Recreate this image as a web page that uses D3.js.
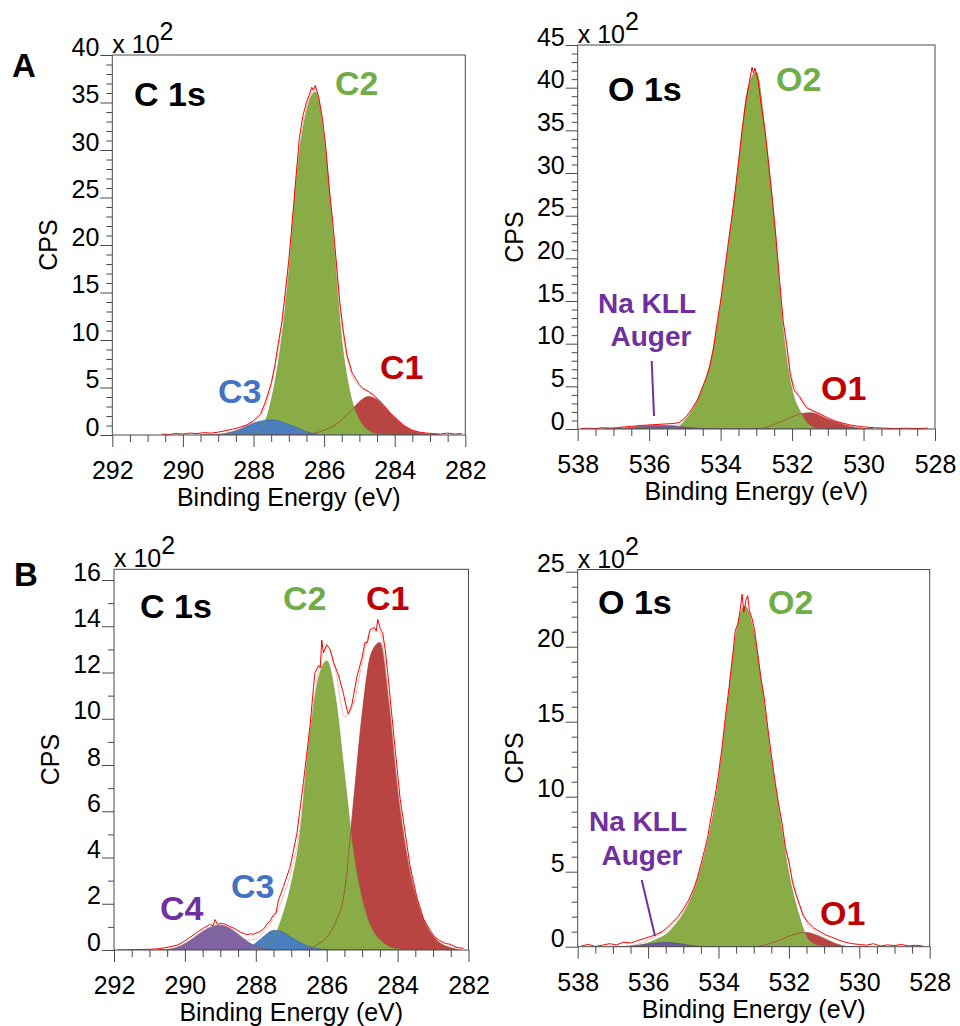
<!DOCTYPE html>
<html><head><meta charset="utf-8">
<script src="https://cdn.jsdelivr.net/npm/d3@7"></script>
<style>
html,body{margin:0;padding:0;background:#fff;}
svg{display:block;}
</style></head><body>
<svg id="chart" width="960" height="1026"></svg>
<script>
// ================= DATA (values in units of 10^2 CPS) =================
// --- Panel A, C 1s ---
const aL_E  = [289.5,289.25,289,288.75,288.5,288.25,288,287.75,287.5,287.25,287,286.75,286.5,286.25,286,285.75,285.5,285.25,285,284.75,284.5,284.25,284,283.75,283.5,283.25,283,282.75];
const aL_C1 = [0,0,0,0,0,0,0,0,0,0,0,0.02,0.05,0.2,0.5,0.9,1.6,2.5,3.5,4.05,3.7,2.8,1.8,1.0,0.45,0.2,0.05,0];
const aL_C2 = [0,0,0,0,0,0.02,0.15,0.8,3.6,8.8,17.0,28.0,34.0,36.1,31.0,21.0,10.0,4.2,1.6,0.5,0.1,0.02,0,0,0,0,0,0];
const aL_C3 = [0,0.02,0.05,0.2,0.45,0.85,1.25,1.5,1.6,1.45,1.1,0.75,0.35,0.1,0,0,0,0,0,0,0,0,0,0,0,0,0,0];
const aL_raw = [[290.6,0.1],[290.4,0.05],[290.2,0.15],[290.0,0.1],[289.8,0.2],[289.6,0.15],[289.4,0.25],[289.2,0.2],[289.0,0.3],[288.8,0.45],[288.6,0.6],[288.4,0.8],[288.2,1.05],[288.0,1.5],[287.8,2.2],[287.65,3.6],[287.5,5.4],[287.4,7.2],[287.3,9.6],[287.2,11.8],[287.1,15.0],[287.0,18.4],[286.9,22.6],[286.8,27.0],[286.7,31.3],[286.6,33.6],[286.5,35.0],[286.4,36.0],[286.35,36.6],[286.3,36.3],[286.25,36.8],[286.15,35.5],[286.05,33.4],[285.95,30.2],[285.85,25.8],[285.75,22.2],[285.65,18.0],[285.55,13.8],[285.45,10.8],[285.35,8.4],[285.2,6.5],[285.0,5.3],[284.9,4.9],[284.75,4.6],[284.6,4.2],[284.45,3.7],[284.3,3.1],[284.15,2.4],[284.0,1.9],[283.85,1.35],[283.7,0.9],[283.5,0.5],[283.3,0.3],[283.1,0.2],[282.9,0.15],[282.7,0.1],[282.5,0.2],[282.3,0.1],[282.1,0.15]];

// --- Panel A, O 1s ---
const aR_E  = [537.25,537,536.75,536.5,536.25,536,535.75,535.5,535.25,535,534.75,534.5,534.25,534,533.75,533.5,533.25,533,532.75,532.5,532.25,532,531.75,531.5,531.25,531,530.75,530.5,530.25,530,529.75];
const aR_O1 = [0,0,0,0,0,0,0,0,0,0,0,0,0,0,0,0,0,0,0.15,0.55,0.95,1.4,1.8,1.9,1.65,1.15,0.8,0.45,0.2,0.05,0];
const aR_O2 = [0,0,0,0,0,0,0,0.02,0.1,1.0,2.5,4.8,8.4,14.5,22.4,30.9,39.5,41.8,34.4,24.2,11.5,4.6,1.9,0.4,0.05,0,0,0,0,0,0];
const aR_Na = [0,0.02,0.08,0.18,0.3,0.38,0.42,0.4,0.33,0.22,0.12,0.05,0.01,0,0,0,0,0,0,0,0,0,0,0,0,0,0,0,0,0,0];
const aR_raw = [[537.9,0.05],[537.7,0.1],[537.5,0.05],[537.3,0.15],[537.1,0.1],[536.9,0.15],[536.7,0.25],[536.5,0.3],[536.3,0.4],[536.1,0.45],[535.9,0.5],[535.7,0.55],[535.5,0.6],[535.3,0.65],[535.15,0.8],[535.0,1.3],[534.9,1.8],[534.8,2.4],[534.65,3.4],[534.5,5.0],[534.4,6.0],[534.3,7.4],[534.2,9.5],[534.1,12.4],[534.0,15.0],[533.9,18.2],[533.8,21.4],[533.7,24.4],[533.6,27.6],[533.5,31.3],[533.4,35.0],[533.3,38.2],[533.2,40.6],[533.12,42.4],[533.08,41.7],[533.04,42.3],[532.95,40.8],[532.85,37.6],[532.75,34.8],[532.65,30.8],[532.55,26.8],[532.45,22.4],[532.35,17.4],[532.25,12.7],[532.15,9.9],[532.05,6.4],[531.95,4.6],[531.8,3.8],[531.6,2.5],[531.4,2.1],[531.2,1.75],[531.0,1.3],[530.8,0.95],[530.6,0.7],[530.4,0.5],[530.2,0.35],[530.0,0.25],[529.7,0.15],[529.4,0.1],[529.1,0.05],[528.8,0.1],[528.5,0.05],[528.2,0.1]];

// --- Panel B, C 1s ---
const bL_E  = [290.75,290.5,290.25,290,289.75,289.5,289.25,289,288.75,288.5,288.25,288,287.75,287.5,287.25,287,286.75,286.5,286.25,286,285.75,285.5,285.25,285,284.75,284.5,284.25,284,283.75,283.5,283.25,283,282.75,282.5,282.25];
const bL_C1 = [0,0,0,0,0,0,0,0,0,0,0,0,0,0,0,0,0,0.05,0.25,0.55,1.2,2.5,6.3,10.2,12.8,13.3,10.7,6.9,4.2,2.4,1.25,0.6,0.25,0.1,0];
const bL_C2 = [0,0,0,0,0,0,0,0,0,0,0,0.02,0.15,0.5,1.45,2.85,5.0,8.9,11.6,12.5,10.9,7.6,4.3,2.2,1.0,0.45,0.15,0.05,0.01,0,0,0,0,0,0];
const bL_C3 = [0,0,0,0,0,0,0,0,0,0,0.05,0.3,0.62,0.85,0.78,0.55,0.32,0.15,0.06,0.02,0,0,0,0,0,0,0,0,0,0,0,0,0,0,0];
const bL_C4 = [0,0.02,0.1,0.27,0.52,0.8,1.0,1.07,0.95,0.68,0.38,0.16,0.05,0.01,0,0,0,0,0,0,0,0,0,0,0,0,0,0,0,0,0,0,0,0,0];
const bL_raw = [[291.9,0.0],[291.3,0.02],[290.98,0.03],[290.7,0.06],[290.42,0.14],[290.2,0.22],[290.04,0.36],[289.9,0.5],[289.76,0.65],[289.6,0.82],[289.48,0.94],[289.3,1.1],[289.2,1.05],[289.15,1.32],[289.08,1.1],[289.01,1.15],[288.87,1.12],[288.75,1.02],[288.63,0.95],[288.44,0.78],[288.26,0.66],[288.15,0.7],[288.07,0.68],[287.88,0.8],[287.75,0.95],[287.69,1.12],[287.6,1.25],[287.5,1.52],[287.43,1.6],[287.36,2.16],[287.22,2.74],[287.03,3.6],[286.84,5.04],[286.66,7.2],[286.47,9.7],[286.37,11.4],[286.33,12.0],[286.23,12.3],[286.18,12.2],[286.14,13.4],[286.09,12.85],[286.0,13.2],[285.9,13.0],[285.81,12.45],[285.67,11.9],[285.53,11.1],[285.46,10.6],[285.39,10.2],[285.29,10.6],[285.15,11.8],[285.01,12.6],[284.92,13.3],[284.85,13.3],[284.78,13.85],[284.66,13.95],[284.6,13.8],[284.56,14.3],[284.49,13.9],[284.42,13.7],[284.35,13.0],[284.28,12.0],[284.21,10.9],[284.07,8.7],[283.93,6.55],[283.79,5.1],[283.65,3.65],[283.46,2.3],[283.27,1.35],[283.08,0.85],[282.95,0.55],[282.8,0.4],[282.65,0.28],[282.52,0.25],[282.35,0.12],[282.14,0.07]];

// --- Panel B, O 1s ---
const bR_E  = [537,536.75,536.5,536.25,536,535.75,535.5,535.25,535,534.75,534.5,534.25,534,533.75,533.5,533.25,533,532.75,532.5,532.25,532,531.75,531.5,531.25,531,530.75,530.5,530.25,530,529.75];
const bR_O1 = [0,0,0,0,0,0,0,0,0,0,0,0,0,0,0,0,0,0.08,0.25,0.45,0.7,0.88,0.95,0.8,0.55,0.28,0.08,0,0,0];
const bR_O2 = [0,0,0.02,0.1,0.25,0.5,0.8,1.4,2.2,3.4,5.2,7.6,11.0,15.9,20.8,22.7,21.0,17.0,12.4,8.5,4.85,2.4,0.7,0.15,0.02,0,0,0,0,0];
const bR_Na = [0,0.01,0.04,0.1,0.18,0.25,0.28,0.25,0.16,0.07,0.02,0,0,0,0,0,0,0,0,0,0,0,0,0,0,0,0,0,0,0];
const bR_raw = [[537.9,0.05],[537.7,0.15],[537.5,0.02],[537.3,0.1],[537.1,0.2],[536.9,0.12],[536.7,0.3],[536.5,0.25],[536.3,0.4],[536.1,0.55],[535.9,0.7],[535.75,0.85],[535.6,1.0],[535.45,1.3],[535.3,1.65],[535.15,2.0],[535.0,2.5],[534.85,3.1],[534.7,3.9],[534.6,4.6],[534.5,5.5],[534.4,6.4],[534.3,7.4],[534.2,8.8],[534.1,10.0],[534.0,11.5],[533.9,13.3],[533.8,15.4],[533.7,17.3],[533.6,19.4],[533.52,21.1],[533.45,21.5],[533.38,22.5],[533.33,23.5],[533.28,22.3],[533.22,23.1],[533.17,23.4],[533.12,22.4],[533.05,21.9],[532.98,21.2],[532.9,19.8],[532.8,18.0],[532.7,16.6],[532.6,14.6],[532.5,12.8],[532.4,11.1],[532.3,9.6],[532.2,8.3],[532.1,6.6],[532.0,5.7],[531.9,4.3],[531.8,3.5],[531.7,2.8],[531.6,2.1],[531.45,1.6],[531.3,1.25],[531.12,1.0],[530.95,0.78],[530.8,0.65],[530.6,0.45],[530.4,0.3],[530.2,0.2],[530.0,0.15],[529.8,0.1],[529.6,0.2],[529.4,0.05],[529.2,0.12],[529.0,0.08],[528.8,0.15],[528.6,0.05],[528.4,0.1],[528.2,0.05]];

// --- tick labels ---
const cXTicks = [292,290,288,286,284,282];
const oXTicks = [538,536,534,532,530,528];
const aL_yTicks = [0,5,10,15,20,25,30,35,40];
const aR_yTicks = [0,5,10,15,20,25,30,35,40,45];
const bL_yTicks = [0,2,4,6,8,10,12,14,16];
const bR_yTicks = [0,5,10,15,20,25];

// ================= STYLE =================
const FONT = '"Liberation Sans", Arial, Helvetica, sans-serif';
const FILL = {red:'#b94542', green:'#8aac46', blue:'#4a7ebf', purple:'#8064a2', na:'#6c5a9e'};
const EDGE = {red:'#a33a36', green:'#789a3a', blue:'#3a6aa8', purple:'#6a4f8e', na:'#5a4a8a'};
const LBL  = {red:'#c00000', green:'#70ad47', blue:'#4472c4', purple:'#7030a0'};
const AXIS = '#4a4a4a';

// ================= LAYOUT =================
const panels = [
  { frame:{l:112.3, r:465.3, t:55, b:435}, xDom:[292,282], yDom:[0,40], yTopPx:55,
    xTicks:cXTicks, yTicks:aL_yTicks, yMinorMax:40,
    E:aL_E, comps:[{v:aL_C1,c:'red'},{v:aL_C2,c:'green'},{v:aL_C3,c:'blue'}], raw:aL_raw,
    letter:{t:'A', x:12, y:77},
    title:{t:'C 1s', x:134, y:106},
    labels:[{t:'C2',x:335,y:95,c:'green'},{t:'C1',x:380,y:379,c:'red'},{t:'C3',x:218,y:403,c:'blue'}] },
  { frame:{l:577.7, r:935, t:45, b:429}, xDom:[538,528], yDom:[0,45], yTopPx:45,
    xTicks:oXTicks, yTicks:aR_yTicks, yMinorMax:45,
    E:aR_E, comps:[{v:aR_O1,c:'red'},{v:aR_O2,c:'green'},{v:aR_Na,c:'na'}], raw:aR_raw,
    title:{t:'O 1s', x:608, y:101},
    labels:[{t:'O2',x:776,y:91,c:'green'},{t:'O1',x:821,y:400,c:'red'}],
    na:{x:647, y1:313, y2:346, lx1:651.7, ly1:361, lx2:654, ly2:416} },
  { frame:{l:114, r:468.5, t:569.3, b:950}, xDom:[292,282], yDom:[0,16], yTopPx:580,
    xTicks:cXTicks, yTicks:bL_yTicks, yMinorMax:16,
    E:bL_E, comps:[{v:bL_C1,c:'red'},{v:bL_C2,c:'green'},{v:bL_C3,c:'blue'},{v:bL_C4,c:'purple'}], raw:bL_raw,
    letter:{t:'B', x:14, y:586},
    title:{t:'C 1s', x:140, y:618},
    labels:[{t:'C2',x:283,y:610,c:'green'},{t:'C1',x:366,y:610,c:'red'},{t:'C3',x:231,y:898,c:'blue'},{t:'C4',x:160,y:920,c:'purple'}] },
  { frame:{l:577.7, r:929.7, t:569.5, b:946.7}, xDom:[538,528], yDom:[0,25], yTopPx:571.7,
    xTicks:oXTicks, yTicks:bR_yTicks, yMinorMax:25,
    E:bR_E, comps:[{v:bR_O1,c:'red'},{v:bR_O2,c:'green'},{v:bR_Na,c:'na'}], raw:bR_raw,
    title:{t:'O 1s', x:598, y:614},
    labels:[{t:'O2',x:768,y:614,c:'green'},{t:'O1',x:820,y:925,c:'red'}],
    na:{x:638, y1:831, y2:865, lx1:641.7, ly1:880, lx2:655, ly2:936} }
];

const svg = d3.select('#chart');
const defs = svg.append('defs');

panels.forEach((p, pi) => {
  const f = p.frame;
  const x = d3.scaleLinear().domain(p.xDom).range([f.l, f.r]);
  const y = d3.scaleLinear().domain(p.yDom).range([f.b, p.yTopPx]);
  const g = svg.append('g');

  defs.append('clipPath').attr('id', 'clip' + pi)
    .append('rect').attr('x', f.l).attr('y', f.t).attr('width', f.r - f.l).attr('height', f.b - f.t);
  const plot = g.append('g').attr('clip-path', `url(#clip${pi})`);

  const byX = (a, b) => x(a[0]) - x(b[0]);
  const area = d3.area().x(d => x(d[0])).y0(y(0)).y1(d => y(d[1])).curve(d3.curveMonotoneX);
  const line = d3.line().x(d => x(d[0])).y(d => y(d[1])).curve(d3.curveMonotoneX);

  // component fills
  p.comps.forEach(c => {
    const pts = p.E.map((e, i) => [e, c.v[i]]).sort(byX);
    plot.append('path').attr('d', area(pts)).attr('fill', FILL[c.c]).attr('stroke', 'none');
  });
  // component outlines
  p.comps.forEach(c => {
    const pts = p.E.map((e, i) => [e, c.v[i]]).sort(byX);
    plot.append('path').attr('d', line(pts)).attr('fill', 'none')
      .attr('stroke', EDGE[c.c]).attr('stroke-width', 0.8).attr('opacity', 0.9);
  });
  // envelope (sum of components)
  const env = p.E.map((e, i) => [e, d3.sum(p.comps, c => c.v[i])]).sort(byX);
  plot.append('path').attr('d', line(env)).attr('fill', 'none')
    .attr('stroke', '#c87a66').attr('stroke-width', 1).attr('opacity', 0.45);
  // raw data
  const raw = p.raw.slice().sort(byX);
  plot.append('path').attr('d', d3.line().x(d => x(d[0])).y(d => y(d[1]))(raw))
    .attr('fill', 'none').attr('stroke', '#ff0000').attr('stroke-width', 1);

  // frame
  g.append('rect').attr('x', f.l).attr('y', f.t).attr('width', f.r - f.l).attr('height', f.b - f.t)
    .attr('fill', 'none').attr('stroke', AXIS).attr('stroke-width', 1);

  // y axis
  const yMinor = d3.range(0, p.yMinorMax + 0.001, 1).filter(v => !p.yTicks.includes(v));
  const ya = g.append('g').attr('transform', `translate(${f.l},0)`)
    .call(d3.axisLeft(y).tickValues(p.yTicks).tickSize(12).tickSizeOuter(0).tickFormat(d3.format('d')));
  const yam = g.append('g').attr('transform', `translate(${f.l},0)`)
    .call(d3.axisLeft(y).tickValues(yMinor).tickSize(6).tickSizeOuter(0).tickFormat(''));
  // x axis
  const xMinor = d3.range(p.xDom[1], p.xDom[0] + 0.001, 0.5).filter(v => !p.xTicks.includes(v));
  const xa = g.append('g').attr('transform', `translate(0,${f.b})`)
    .call(d3.axisBottom(x).tickValues(p.xTicks).tickSize(12).tickSizeOuter(0).tickFormat(d3.format('d')));
  const xam = g.append('g').attr('transform', `translate(0,${f.b})`)
    .call(d3.axisBottom(x).tickValues(xMinor).tickSize(7).tickSizeOuter(0).tickFormat(''));
  [ya, yam, xa, xam].forEach(a => {
    a.select('.domain').remove();
    a.selectAll('line').attr('stroke', AXIS).attr('stroke-width', 1);
  });
  ya.selectAll('text').attr('x', -13).attr('dy', 0).attr('font-size', 25)
    .attr('font-family', FONT).attr('fill', '#000');
  xa.selectAll('text').attr('y', 44).attr('dy', 0).attr('font-size', 25)
    .attr('font-family', FONT).attr('fill', '#000');

  // multiplier
  const mt = g.append('text').attr('x', f.l).attr('y', f.t - 2)
    .attr('font-family', FONT).attr('font-size', 25).attr('fill', '#000');
  mt.append('tspan').text('x 10');
  mt.append('tspan').attr('dy', -13).text('2');

  // axis titles
  g.append('text').attr('x', (f.l + f.r) / 2).attr('y', f.b + 71).attr('text-anchor', 'middle')
    .attr('font-family', FONT).attr('font-size', 25).attr('fill', '#000').text('Binding Energy (eV)');
  g.append('text').attr('transform', `translate(${f.l - 55},${(f.t + f.b) / 2}) rotate(-90)`)
    .attr('text-anchor', 'middle').attr('font-family', FONT).attr('font-size', 25).attr('fill', '#000').text('CPS');

  // panel letter
  if (p.letter) g.append('text').attr('x', p.letter.x).attr('y', p.letter.y)
    .attr('font-family', FONT).attr('font-size', 33).attr('font-weight', 'bold').attr('fill', '#000').text(p.letter.t);
  // title
  g.append('text').attr('x', p.title.x).attr('y', p.title.y)
    .attr('font-family', FONT).attr('font-size', 34).attr('font-weight', 'bold').attr('fill', '#000').text(p.title.t);
  // peak labels
  p.labels.forEach(l => {
    g.append('text').attr('x', l.x).attr('y', l.y)
      .attr('font-family', FONT).attr('font-size', 34).attr('font-weight', 'bold').attr('fill', LBL[l.c]).text(l.t);
  });
  // Na KLL Auger annotation
  if (p.na) {
    g.append('text').attr('x', p.na.x).attr('y', p.na.y1).attr('text-anchor', 'middle')
      .attr('font-family', FONT).attr('font-size', 28).attr('font-weight', 'bold').attr('fill', LBL.purple).text('Na KLL');
    g.append('text').attr('x', p.na.x + 4).attr('y', p.na.y2).attr('text-anchor', 'middle')
      .attr('font-family', FONT).attr('font-size', 28).attr('font-weight', 'bold').attr('fill', LBL.purple).text('Auger');
    g.append('line').attr('x1', p.na.lx1).attr('y1', p.na.ly1).attr('x2', p.na.lx2).attr('y2', p.na.ly2)
      .attr('stroke', LBL.purple).attr('stroke-width', 2);
  }
});
</script>
</body></html>
